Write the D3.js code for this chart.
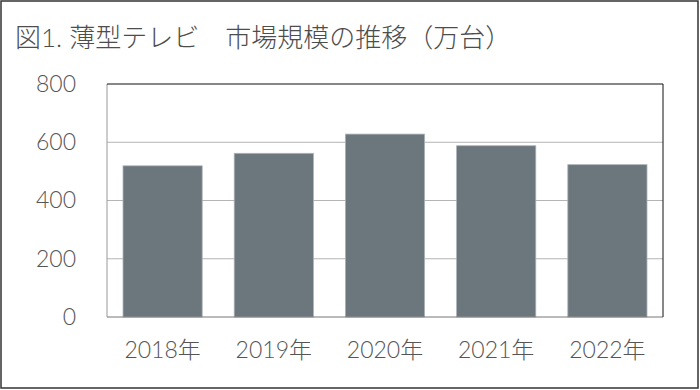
<!DOCTYPE html>
<html>
<head>
<meta charset="utf-8">
<script src="https://cdn.jsdelivr.net/npm/d3@7"></script>
<style>
  body { margin: 0; background: #fff; }
  text { font-family: Lato, "Noto Sans CJK JP", sans-serif; font-weight: 300; }
</style>
</head>
<body>
<div id="chart"></div>
<script>
// data
const years = ["2018年", "2019年", "2020年", "2021年", "2022年"];
const units = [519, 562, 628, 588, 523];
const yTicks = [0, 200, 400, 600, 800];
const title = "図1. 薄型テレビ\u3000市場規模の推移（万台）";

const width = 700, height = 390;
const plot = { left: 107, right: 663, top: 84, bottom: 317 };

const svg = d3.select("#chart").append("svg")
  .attr("width", width)
  .attr("height", height);

// outer frame
svg.append("rect")
  .attr("x", 1).attr("y", 1)
  .attr("width", width - 3).attr("height", height - 3)
  .attr("fill", "#fff")
  .attr("stroke", "#333")
  .attr("stroke-width", 1.5);

svg.append("text")
  .attr("x", 15).attr("y", 47)
  .attr("fill", "#4d4d4d")
  .style("font-size", "26px")
  .text(title);

const x = d3.scaleBand()
  .domain(years)
  .range([plot.left, plot.right])
  .paddingInner(0.288)
  .paddingOuter(0.144);

const y = d3.scaleLinear()
  .domain([0, 800])
  .range([plot.bottom, plot.top]);

// gridlines
svg.append("g")
  .selectAll("line")
  .data(yTicks.slice(1, -1))
  .join("line")
  .attr("x1", plot.left).attr("x2", plot.right)
  .attr("y1", d => y(d)).attr("y2", d => y(d))
  .attr("stroke", "#b4b4b4")
  .attr("stroke-width", 1);

// bars
svg.append("g")
  .selectAll("rect")
  .data(units)
  .join("rect")
  .attr("x", (d, i) => x(years[i]))
  .attr("y", d => y(d))
  .attr("width", x.bandwidth())
  .attr("height", d => y(0) - y(d))
  .attr("fill", "#6c767d")
  .attr("stroke", "#aab2b7")
  .attr("stroke-width", 0.8);

// plot frame: gray left/bottom, black top/right
svg.append("line")
  .attr("x1", plot.left).attr("x2", plot.left)
  .attr("y1", plot.top).attr("y2", plot.bottom)
  .attr("stroke", "#999");
svg.append("line")
  .attr("x1", plot.left).attr("x2", plot.right)
  .attr("y1", plot.bottom).attr("y2", plot.bottom)
  .attr("stroke", "#777");
svg.append("line")
  .attr("x1", plot.left).attr("x2", plot.right)
  .attr("y1", plot.top).attr("y2", plot.top)
  .attr("stroke", "#111");
svg.append("line")
  .attr("x1", plot.right).attr("x2", plot.right)
  .attr("y1", plot.top).attr("y2", plot.bottom)
  .attr("stroke", "#111");

// y axis labels
const yAxis = svg.append("g")
  .attr("transform", "translate(" + plot.left + ",0)")
  .call(d3.axisLeft(y).tickValues(yTicks).tickSize(0).tickPadding(31));
yAxis.select(".domain").remove();
yAxis.selectAll("text")
  .attr("fill", "#555")
  .style("font-size", "23px");

// x axis labels
const xAxis = svg.append("g")
  .attr("transform", "translate(0," + plot.bottom + ")")
  .call(d3.axisBottom(x).tickSize(0).tickPadding(25));
xAxis.select(".domain").remove();
xAxis.selectAll("text")
  .attr("fill", "#555")
  .style("font-size", "23px");
</script>
</body>
</html>
